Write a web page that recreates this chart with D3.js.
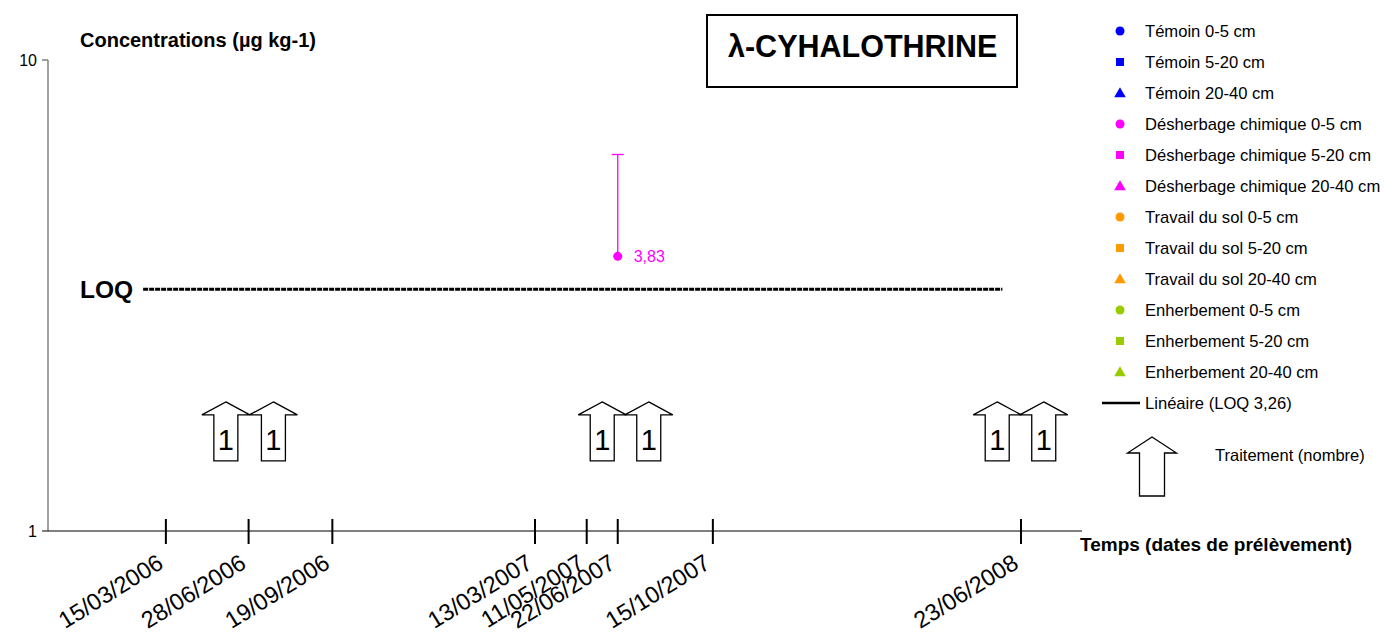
<!DOCTYPE html>
<html>
<head>
<meta charset="utf-8">
<script src="https://cdn.jsdelivr.net/npm/d3@7.9.0/dist/d3.min.js"></script>
<style>
  body { margin: 0; background: #fff; }
  svg { font-family: 'Liberation Sans', Arial, sans-serif; }
</style>
</head>
<body>
<svg id="chart" width="1387" height="641"></svg>
<script>
// sampling dates and their place on the (hand-spaced) time axis, in axis units 0-100
const sampleDates = ['15/03/2006', '28/06/2006', '19/09/2006', '13/03/2007', '11/05/2007', '22/06/2007', '15/10/2007', '23/06/2008'];
const samplePos = [11.4, 19.4, 27.5, 47.1, 52.1, 55.1, 64.3, 94.1];

// treatments (arrows) : position on the time axis and number of treatments
const treatmentPos = [17.2, 21.8, 53.6, 58.1, 91.8, 96.3];
const treatmentCount = [1, 1, 1, 1, 1, 1];

// measured values (Désherbage chimique 0-5 cm)
const measuredPos = [55.1];
const measuredValue = [3.83];
const measuredUpper = [6.3];
const measuredLabel = ['3,83'];

// limit of quantification
const loqValue = 3.26;
const loqExtent = [9.2, 92.3];

const yTicks = [1, 10];

const legendNames = [
  'Témoin 0-5 cm', 'Témoin 5-20 cm', 'Témoin 20-40 cm',
  'Désherbage chimique 0-5 cm', 'Désherbage chimique 5-20 cm', 'Désherbage chimique 20-40 cm',
  'Travail du sol 0-5 cm', 'Travail du sol 5-20 cm', 'Travail du sol 20-40 cm',
  'Enherbement  0-5 cm', 'Enherbement  5-20 cm', 'Enherbement  20-40 cm'
];
const legendColors = ['#0000ff', '#0000ff', '#0000ff', '#ff00ff', '#ff00ff', '#ff00ff',
  '#ff9900', '#ff9900', '#ff9900', '#99cc00', '#99cc00', '#99cc00'];
const legendShapes = ['circle', 'square', 'triangle', 'circle', 'square', 'triangle',
  'circle', 'square', 'triangle', 'circle', 'square', 'triangle'];

const svg = d3.select('#chart');

const x = d3.scaleLinear().domain([0, 100]).range([48, 1082]);
const y = d3.scaleLog().domain([1, 10]).range([531, 60]);

// y axis (grey)
svg.append('line')
  .attr('x1', x(0)).attr('x2', x(0))
  .attr('y1', y(10)).attr('y2', y(1))
  .attr('stroke', '#808080').attr('stroke-width', 1.5);
svg.append('line')
  .attr('x1', x(0) - 6).attr('x2', x(0))
  .attr('y1', y(10)).attr('y2', y(10))
  .attr('stroke', '#808080').attr('stroke-width', 1.5);

yTicks.forEach((t) => {
  svg.append('text')
    .attr('x', x(0) - 11).attr('y', y(t) + 6)
    .attr('text-anchor', 'end')
    .attr('font-size', 16)
    .text(t);
});

// x axis
svg.append('line')
  .attr('x1', x(0) - 6).attr('x2', x(100))
  .attr('y1', y(1)).attr('y2', y(1))
  .attr('stroke', '#000').attr('stroke-width', 1);

samplePos.forEach((p, i) => {
  svg.append('line')
    .attr('x1', x(p)).attr('x2', x(p))
    .attr('y1', y(1) - 12).attr('y2', y(1) + 13)
    .attr('stroke', '#000').attr('stroke-width', 2);
  svg.append('text')
    .attr('transform', `translate(${x(p) - 1},${y(1) + 36}) rotate(-32)`)
    .attr('text-anchor', 'end')
    .attr('font-size', 23.5)
    .text(sampleDates[i]);
});

svg.append('text')
  .attr('x', 1080).attr('y', 551)
  .attr('font-size', 19).attr('font-weight', 'bold')
  .text('Temps (dates de prélèvement)');

svg.append('text')
  .attr('x', 80).attr('y', 47)
  .attr('font-size', 20).attr('font-weight', 'bold')
  .text('Concentrations (µg kg-1)');

// title box
svg.append('rect')
  .attr('x', 707).attr('y', 15).attr('width', 310).attr('height', 72)
  .attr('fill', '#fff').attr('stroke', '#000').attr('stroke-width', 2);
svg.append('text')
  .attr('x', 728).attr('y', 57)
  .attr('font-size', 30.5).attr('font-weight', 'bold')
  .text('λ-CYHALOTHRINE');

// LOQ line
svg.append('line')
  .attr('x1', x(loqExtent[0])).attr('x2', x(loqExtent[1]))
  .attr('y1', y(loqValue)).attr('y2', y(loqValue))
  .attr('stroke', '#000').attr('stroke-width', 3)
  .attr('stroke-dasharray', '5,1');
svg.append('text')
  .attr('x', 80).attr('y', y(loqValue) + 9)
  .attr('font-size', 24.5).attr('font-weight', 'bold')
  .text('LOQ');

// treatment arrows
function arrowPath(cx, top, w, sw, hh, h) {
  return `M${cx},${top} L${cx + w / 2},${top + hh} L${cx + sw / 2},${top + hh} L${cx + sw / 2},${top + h} ` +
    `L${cx - sw / 2},${top + h} L${cx - sw / 2},${top + hh} L${cx - w / 2},${top + hh} Z`;
}
const arrowTop = y(1.88);
treatmentPos.forEach((p, i) => {
  svg.append('path')
    .attr('d', arrowPath(x(p), arrowTop, 48, 24, 13, 59))
    .attr('fill', '#fff').attr('stroke', '#000').attr('stroke-width', 1.3);
  svg.append('text')
    .attr('x', x(p)).attr('y', arrowTop + 48)
    .attr('text-anchor', 'middle')
    .attr('font-size', 29)
    .text(treatmentCount[i]);
});

// measured values with error bars
measuredPos.forEach((p, i) => {
  const cx = x(p);
  svg.append('line')
    .attr('x1', cx).attr('x2', cx)
    .attr('y1', y(measuredValue[i])).attr('y2', y(measuredUpper[i]))
    .attr('stroke', '#ff00ff').attr('stroke-width', 1.3);
  svg.append('line')
    .attr('x1', cx - 6).attr('x2', cx + 6)
    .attr('y1', y(measuredUpper[i])).attr('y2', y(measuredUpper[i]))
    .attr('stroke', '#ff00ff').attr('stroke-width', 1.3);
  svg.append('circle')
    .attr('cx', cx).attr('cy', y(measuredValue[i])).attr('r', 4.5)
    .attr('fill', '#ff00ff');
  svg.append('text')
    .attr('x', cx + 16).attr('y', y(measuredValue[i]) + 6)
    .attr('font-size', 16).attr('fill', '#ff00ff')
    .text(measuredLabel[i]);
});

// legend
const legendY = d3.scalePoint().domain(d3.range(13)).range([31, 403]);
const symbolType = { circle: d3.symbolCircle, square: d3.symbolSquare, triangle: d3.symbolTriangle };
const symbolSize = { circle: 64, square: 64, triangle: 58 };
legendNames.forEach((name, i) => {
  const ly = legendY(i);
  svg.append('path')
    .attr('d', d3.symbol().type(symbolType[legendShapes[i]]).size(symbolSize[legendShapes[i]])())
    .attr('transform', `translate(1120,${ly + (legendShapes[i] === 'triangle' ? 1 : 0)})`)
    .attr('fill', legendColors[i]);
  svg.append('text')
    .attr('x', 1145).attr('y', ly + 6)
    .attr('font-size', 16.6)
    .text(name);
});
svg.append('line')
  .attr('x1', 1102).attr('x2', 1140)
  .attr('y1', legendY(12)).attr('y2', legendY(12))
  .attr('stroke', '#000').attr('stroke-width', 2.5);
svg.append('text')
  .attr('x', 1145).attr('y', legendY(12) + 6)
  .attr('font-size', 16.6)
  .text('Linéaire (LOQ 3,26)');

svg.append('path')
  .attr('d', arrowPath(1152, 437, 49, 25, 16, 59))
  .attr('fill', '#fff').attr('stroke', '#000').attr('stroke-width', 1.3);
svg.append('text')
  .attr('x', 1215).attr('y', 461)
  .attr('font-size', 16.5)
  .text('Traitement (nombre)');
</script>
</body>
</html>
